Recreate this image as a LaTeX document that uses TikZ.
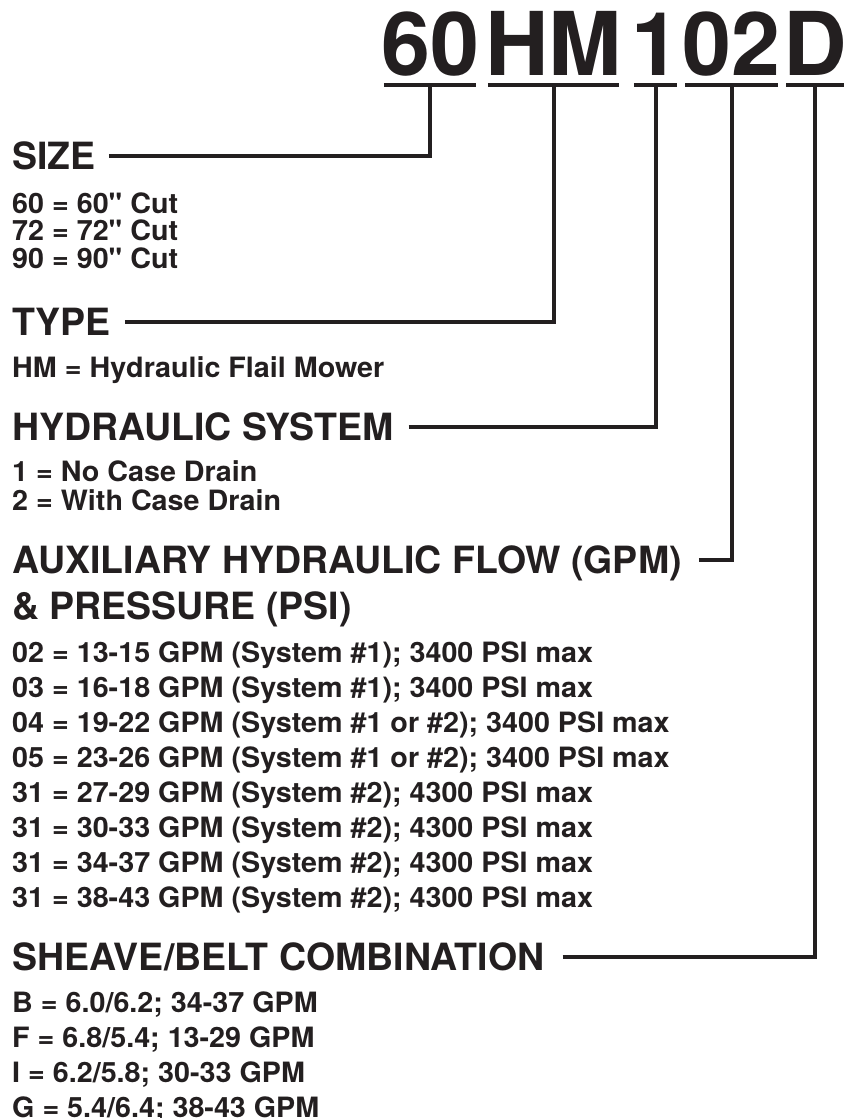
\documentclass[tikz,border=0pt]{standalone}
\usepackage{fontspec}
\newfontfamily\heros{TeX Gyre Heros}
\newfontfamily\herositem{TeX Gyre Heros}[FakeStretch=1.025]
\usepackage{tikz}
\definecolor{ink}{HTML}{231F20}

\begin{document}
\begin{tikzpicture}[x=1pt,y=-1pt,line join=miter,
  code/.style={anchor=base,inner sep=0pt,text=ink,font=\heros\bfseries\fontsize{88}{88}\selectfont},
  head/.style={anchor=base west,align=left,inner sep=0pt,text=ink,font=\heros\bfseries\fontsize{37.5}{46}\selectfont},
  item/.style={anchor=base west,align=left,inner sep=0pt,text=ink,font=\herositem\bfseries\fontsize{28}{#1}\selectfont},
  item/.default=35,
  uline/.style={ink,line width=4.5pt},
  lead/.style={ink,line width=4pt}]
  \useasboundingbox (0,0) rectangle (847,1118);

  % --- model code ---
  \node[code] (t60) at (430,76) {60};
  \node[code] (tHM) at (553.5,76) {HM};
  \node[code] (t1)  at (655.5,76) {1};
  \node[code] (t02) at (731.5,76) {02};
  \node[code] (tD)  at (815,76) {D};

  % underlines below each group
  \foreach \g in {t60,tHM,t1,t02,tD}
    \draw[uline] ([xshift=3pt,yshift=-9pt]\g.base west) -- ([xshift=-3pt,yshift=-9pt]\g.base east);

  % multi-line nodes sit on the baseline of their last line
  % --- size ---
  \node[head] (hSize) at (12,170) {SIZE};
  \node[item=27.7] (lSize) at (12,268.4) {60 = 60" Cut\\72 = 72" Cut\\90 = 90" Cut};

  % --- type ---
  \node[head] (hType) at (12,335) {TYPE};
  \node[item] (lType) at (12,377) {HM = Hydraulic Flail Mower};

  % --- hydraulic system ---
  \node[head] (hHyd) at (12,440) {HYDRAULIC SYSTEM};
  \node[item=29] (lHyd) at (12,510) {1 = No Case Drain\\2 = With Case Drain};

  % --- flow and pressure ---
  \node[head] (hAux) at (12,619) {AUXILIARY HYDRAULIC FLOW (GPM)\\\& PRESSURE (PSI)};
  \node[item] (lAux) at (12,907) {02 = 13-15 GPM (System \#1); 3400 PSI max\\
    03 = 16-18 GPM (System \#1); 3400 PSI max\\
    04 = 19-22 GPM (System \#1 or \#2); 3400 PSI max\\
    05 = 23-26 GPM (System \#1 or \#2); 3400 PSI max\\
    31 = 27-29 GPM (System \#2); 4300 PSI max\\
    31 = 30-33 GPM (System \#2); 4300 PSI max\\
    31 = 34-37 GPM (System \#2); 4300 PSI max\\
    31 = 38-43 GPM (System \#2); 4300 PSI max};

  % --- sheave/belt ---
  \node[head] (hBelt) at (12,970) {SHEAVE/BELT COMBINATION};
  \node[item=34.7] (lBelt) at (12,1117) {B = 6.0/6.2; 34-37 GPM\\
    F = 6.8/5.4; 13-29 GPM\\
    I = 6.2/5.8; 30-33 GPM\\
    G = 5.4/6.4; 38-43 GPM};

  % leaders from headings up to the code
  \draw[lead] ([xshift=13pt,yshift=13.5pt]hSize.base east) -| ([yshift=-9pt]t60.base);
  \draw[lead] ([xshift=14pt,yshift=13.5pt]hType.base east) -| ([yshift=-9pt]tHM.base);
  \draw[lead] ([xshift=15pt,yshift=13.5pt]hHyd.base east) -| ([yshift=-9pt]t1.base);
  \draw[lead] ([xshift=17pt,yshift=59.5pt]hAux.base east) -| ([yshift=-9pt]t02.base);
  \draw[lead] ([xshift=18pt,yshift=13.5pt]hBelt.base east) -| ([yshift=-9pt]tD.base);
\end{tikzpicture}
\end{document}
